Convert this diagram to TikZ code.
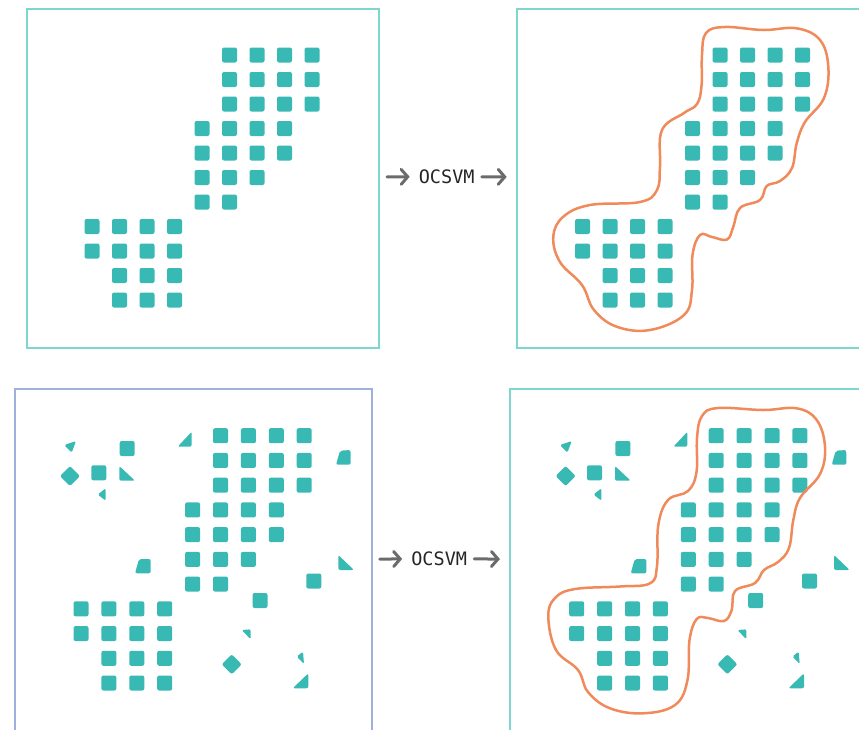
\documentclass[tikz,border=0pt]{standalone}
\usepackage{fontspec}
\newfontfamily\labelfont{DejaVu Sans Mono}
\usepackage{tikz}
\usetikzlibrary{arrows.meta}

\definecolor{dotteal}{HTML}{38B9B4}
\definecolor{frameteal}{HTML}{7ED6D0}
\definecolor{frameblue}{HTML}{A0B0DC}
\definecolor{boundary}{HTML}{F08A5A}
\definecolor{arrowgray}{HTML}{6B6B6B}

% inlier grid: x0, y0, dx, dy
\newcommand{\inliers}[4]{%
  \foreach \j/\a/\b in {0/5/8,1/5/8,2/5/8,3/4/7,4/4/7,5/4/6,6/4/5,7/0/3,8/0/3,9/1/3,10/1/3}
    \foreach \i in {\a,...,\b}
      \fill[point] ({#1+#3*\i-7.5},{#2+#4*\j-7.5}) rectangle ++(15,15);
}

\newcommand{\outliers}{%
  \fill[point, rounded corners=1.5pt] (64.3,445) -- (76,441) -- (71.7,452.7) -- cycle;
  \fill[point] (119.7,441) rectangle ++(15,15);
  \fill[point] (60,476) -- (70,466) -- (80,476) -- (70,486) -- cycle;
  \fill[point] (91.3,465.3) rectangle ++(15,15);
  \fill[point] (119.3,466) -- (119.3,480.7) -- (135,480.7) -- cycle;
  \fill[point, rounded corners=1.5pt] (105.7,488.3) -- (105.7,500.7) -- (97.7,494.5) -- cycle;
  \fill[point] (191.7,431.7) -- (191.7,446.7) -- (177.7,446.7) -- cycle;
  \fill[point] (340,450.7) -- (350.5,450) -- (350.7,464.7) -- (336,464.7) -- cycle;
  \fill[point] (139,559) -- (150.7,559) -- (150.7,573.3) -- (135,573.3) -- cycle;
  \fill[point] (338.3,555) -- (338.3,570) -- (354,570) -- cycle;
  \fill[point] (306.3,573.5) rectangle ++(15,15);
  \fill[point] (252.5,593) rectangle ++(15,15);
  \fill[point, rounded corners=1.5pt] (241.7,630) -- (250.7,629.3) -- (250.7,639.3) -- cycle;
  \fill[point] (221.7,664.3) -- (231.7,654.3) -- (241.7,664.3) -- (231.7,674.3) -- cycle;
  \fill[point, rounded corners=1.5pt] (303,651.7) -- (304,664) -- (296.7,656.5) -- cycle;
  \fill[point] (308.3,673.3) -- (308.3,688.3) -- (292.7,688.3) -- cycle;
}

\begin{document}
\begin{tikzpicture}[
    x=1pt, y=-1pt,
    panel/.style={draw=frameteal, line width=2pt, inner sep=0pt},
    point/.style={fill=dotteal, rounded corners=2pt},
    method/.style={font=\labelfont\fontsize{18.5}{20}\selectfont, text=black!85, inner sep=0pt},
    arrow/.style={-{Straight Barb[length=6.5pt, width=15pt, line cap=round]}, line width=3pt,
        arrowgray, line cap=round, shorten <=7pt, shorten >=9pt},
    blob/.style={draw=boundary, line width=2.5pt}
]
\useasboundingbox (0,0) rectangle (859,729);

\node[panel, minimum width=352pt, minimum height=339.5pt] (cleanin) at (203,178.25) {};
\node[panel, minimum width=352pt, minimum height=339.5pt] (cleanout) at (692.7,178.25) {};
\node[panel, draw=frameblue, minimum width=356.7pt, minimum height=344pt] (noisyin) at (193.3,561) {};
\node[panel, minimum width=356.7pt, minimum height=344pt] (noisyout) at (688.3,561) {};

\node[method] (ocsvmtop) at (446.7,176.5) {OCSVM};
\node[method] (ocsvmbot) at (439.2,558.5) {OCSVM};

\draw[arrow] (cleanin) -- (ocsvmtop);
\draw[arrow] (ocsvmtop) -- (cleanout);
\draw[arrow] (noisyin) -- (ocsvmbot);
\draw[arrow] (ocsvmbot) -- (noisyout);

\inliers{92}{55}{27.5}{24.5}
\inliers{582.5}{55}{27.5}{24.5}
\inliers{81}{435.7}{27.9}{24.73}
\inliers{576.7}{435.7}{27.9}{24.73}

\outliers
\begin{scope}[xshift=495.7pt]
  \outliers
\end{scope}

\draw[blob] plot[smooth cycle, tension=0.65] coordinates {
  (706,33) (725,27) (763.3,30) (796.7,28.3) (820,40) (828.3,66.7)
  (824,98) (805,122) (796.7,143.3) (792,168) (780,181) (766.7,186)
  (760,200) (740,208) (733.3,226.7) (727,239.5) (712,237) (700,235)
  (692.5,255) (692,290) (684,315) (650,330) (616.7,326.7) (594,310)
  (582,285) (560,262) (553.3,236.7) (563.3,216.7) (590,205) (640,202)
  (657,190) (660,166.7) (662,130) (684,113) (697,104) (701.5,86) (702,55)};

\draw[blob] plot[smooth cycle, tension=0.65] coordinates {
  (702,416) (718,408) (763.3,410) (796.7,408.3) (816.7,420) (825,446.7)
  (820,474) (800,498) (793.3,520) (789,548) (778,562) (764,570)
  (755,583) (735,591) (731.7,610) (724,621) (708,618) (696.7,619)
  (689.5,640) (687.5,680) (675,705) (643.3,713.3) (610,708.3) (588,692)
  (578,670) (556,650) (548.3,616.7) (555,598) (575,589) (620,586.5)
  (650,583.3) (657,566) (658.3,525) (668,500) (688,491) (696.5,472) (697,438)};

\end{tikzpicture}
\end{document}
